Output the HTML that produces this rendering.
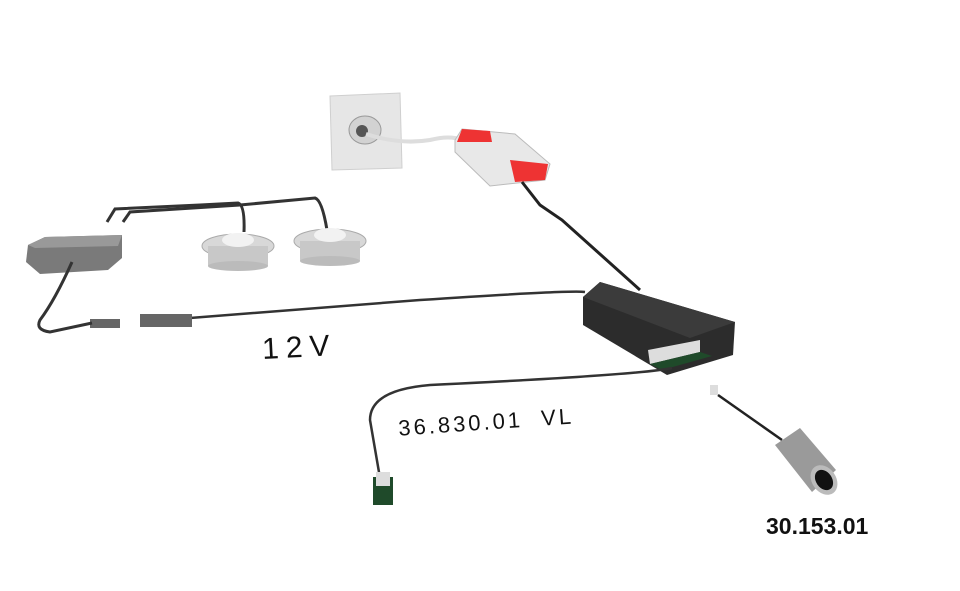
<!DOCTYPE html>
<html><head><meta charset="utf-8"><style>
html,body{margin:0;padding:0;background:#fff;width:960px;height:591px;overflow:hidden}
svg{display:block}
</style></head><body>
<svg width="960" height="591" viewBox="0 0 960 591" xmlns="http://www.w3.org/2000/svg">
<!-- wall socket -->
<polygon points="330,96 400,93 402,168 332,170" fill="#e6e6e6" stroke="#cfcfcf"/>
<ellipse cx="365" cy="130" rx="16" ry="14" fill="#d2d2d2" stroke="#999"/>
<ellipse cx="362" cy="131" rx="6" ry="6" fill="#555"/>
<!-- cable socket to PSU -->
<path d="M366,134 Q400,145 430,140 Q450,135 462,140" stroke="#ddd" stroke-width="4" fill="none"/>
<!-- PSU -->
<polygon points="455,140 462,129 515,134 550,164 545,180 490,186 455,152" fill="#e8e8e8" stroke="#bbb"/>
<polygon points="462,129 490,131 492,142 457,142" fill="#e33"/>
<polygon points="510,160 548,164 545,180 515,182" fill="#e33"/>
<!-- cable PSU to controller -->
<path d="M522,182 L540,205 L562,220 L640,290" stroke="#222" stroke-width="3" fill="none"/>
<!-- controller -->
<polygon points="583,297 600,282 735,322 733,355 667,375 583,325" fill="#2c2c2c"/>
<polygon points="583,297 600,282 735,322 690,338" fill="#3b3b3b"/>
<polygon points="648,350 700,340 700,352 650,364" fill="#ddd"/>
<polygon points="650,364 700,352 712,356 662,370" fill="#1f4a2a"/>
<!-- cable controller to 12V left -->
<path d="M585,292 Q570,290 420,300 L190,318" stroke="#333" stroke-width="2.5" fill="none"/>
<rect x="140" y="314" width="52" height="13" fill="#666"/>
<rect x="90" y="319" width="30" height="9" fill="#666"/>
<!-- left box -->
<polygon points="28,245 45,237 122,235 122,258 108,270 40,274 26,262" fill="#7a7a7a"/>
<polygon points="28,245 45,237 122,235 118,246 35,248" fill="#999"/>
<path d="M72,262 Q55,300 40,320 Q35,330 50,332 L92,323" stroke="#333" stroke-width="3" fill="none"/>
<!-- top cables -->
<path d="M107,222 L115,209 L200,205 L238,203 Q245,205 244,232" stroke="#333" stroke-width="3" fill="none"/>
<path d="M123,222 L130,212 L240,205 L315,198 Q322,200 327,230" stroke="#333" stroke-width="3" fill="none"/>
<!-- lights -->
<ellipse cx="238" cy="246" rx="36" ry="12" fill="#d8d8d8" stroke="#aaa"/>
<rect x="208" y="246" width="60" height="20" fill="#c8c8c8"/>
<ellipse cx="238" cy="266" rx="30" ry="5" fill="#bbb"/>
<ellipse cx="238" cy="240" rx="16" ry="7" fill="#f2f2f2"/>
<ellipse cx="330" cy="241" rx="36" ry="12" fill="#d8d8d8" stroke="#aaa"/>
<rect x="300" y="241" width="60" height="20" fill="#c8c8c8"/>
<ellipse cx="330" cy="261" rx="30" ry="5" fill="#bbb"/>
<ellipse cx="330" cy="235" rx="16" ry="7" fill="#f2f2f2"/>
<!-- cable to VL -->
<path d="M672,368 Q640,375 430,385 Q370,390 370,420 L380,478" stroke="#333" stroke-width="2.5" fill="none"/>
<rect x="373" y="477" width="20" height="28" fill="#1f4a2a"/>
<rect x="376" y="472" width="14" height="14" fill="#ddd"/>
<!-- sensor -->
<rect x="710" y="385" width="8" height="10" fill="#ddd"/>
<path d="M718,395 L782,440" stroke="#222" stroke-width="2.5"/>
<polygon points="775,445 800,428 836,470 812,492" fill="#9a9a9a"/>
<ellipse cx="824" cy="480" rx="12" ry="16" fill="#bbb" transform="rotate(-35 824 480)"/>
<ellipse cx="824" cy="480" rx="8" ry="11" fill="#111" transform="rotate(-35 824 480)"/>
<!-- texts -->
<text x="262" y="357" font-family="Liberation Sans, sans-serif" font-size="30" fill="#111" letter-spacing="7" transform="rotate(-3 300 345)">12V</text>
<text x="398" y="430" font-family="Liberation Sans, sans-serif" font-size="22" fill="#111" letter-spacing="3" transform="rotate(-4 480 420)" xml:space="preserve">36.830.01  VL</text>
<text x="766" y="534" font-family="Liberation Sans, sans-serif" font-size="23" font-weight="bold" fill="#111">30.153.01</text>
</svg>
</body></html>
